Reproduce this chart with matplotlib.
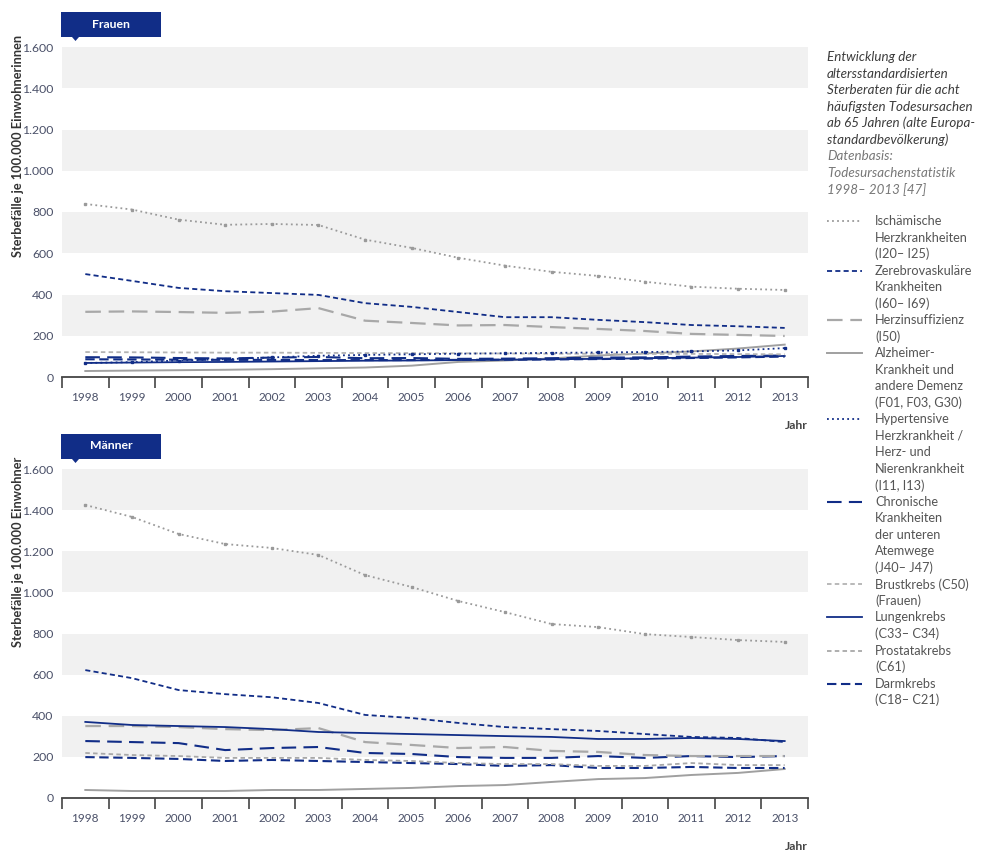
import numpy as np
import matplotlib
matplotlib.use("Agg")
import matplotlib.pyplot as plt
from matplotlib.lines import Line2D
from matplotlib.patches import Rectangle, Polygon

plt.rcParams['font.family'] = ['Lato', 'DejaVu Sans']

years = list(range(1998, 2014))

# Frauen
w_isch = [839, 812, 763, 738, 742, 737, 666, 626, 578, 540, 510, 490, 462, 438, 428, 422]
w_zereb = [499, 466, 432, 416, 407, 398, 358, 340, 315, 290, 290, 277, 266, 252, 246, 238]
w_herzins = [316, 318, 315, 311, 317, 334, 273, 262, 250, 252, 242, 233, 223, 209, 204, 199]
w_alz = [29, 31, 33, 35, 38, 42, 46, 55, 73, 80, 90, 104, 114, 124, 138, 157]
w_hyper = [68, 72, 80, 86, 95, 103, 107, 110, 113, 115, 117, 119, 121, 124, 129, 140]
w_chron = [96, 95, 92, 90, 94, 97, 91, 92, 88, 89, 91, 94, 95, 99, 102, 104]
w_brust = [121, 120, 119, 118, 118, 117, 116, 116, 115, 114, 113, 113, 112, 112, 111, 110]
w_lungen = [68, 70, 72, 73, 75, 77, 79, 80, 82, 84, 86, 88, 91, 94, 97, 102]
w_darm = [86, 85, 84, 83, 83, 82, 82, 82, 83, 84, 85, 87, 89, 92, 95, 99]

# Maenner
m_isch = [1425, 1367, 1284, 1235, 1216, 1182, 1084, 1026, 958, 904, 846, 831, 797, 783, 768, 759]
m_zereb = [622, 583, 525, 505, 490, 462, 404, 389, 365, 345, 335, 326, 311, 297, 292, 272]
m_herzins = [350, 350, 345, 335, 330, 340, 272, 258, 243, 248, 229, 224, 209, 204, 204, 204]
m_alz = [39, 34, 34, 34, 39, 39, 44, 49, 58, 63, 78, 92, 97, 112, 122, 141]
m_chron = [277, 272, 267, 233, 243, 248, 219, 214, 199, 195, 195, 204, 195, 204, 199, 204]
m_lungen = [370, 355, 350, 345, 335, 321, 316, 311, 306, 301, 297, 287, 287, 292, 287, 277]
m_prostata = [219, 209, 204, 195, 195, 195, 185, 180, 170, 165, 165, 156, 156, 170, 160, 160]
m_darm = [199, 195, 190, 180, 185, 180, 175, 170, 165, 156, 160, 146, 146, 151, 146, 146]

yticks = [0, 200, 400, 600, 800, 1000, 1200, 1400, 1600]
ytick_labels = ['0', '200', '400', '600', '800', '1.000', '1.200', '1.400', '1.600']

NAVY = '#112d87'
styles = {
    'isch': dict(color='#9a9a9a', ls=(0, (1, 1.8)), lw=1.3),
    'zereb': dict(color=NAVY, ls=(0, (2.8, 1.8)), lw=1.3),
    'herzins': dict(color='#a8a8a8', ls=(0, (7, 3.5)), lw=1.6),
    'alz': dict(color='#a0a0a0', ls='-', lw=1.4),
    'hyper': dict(color=NAVY, ls=(0, (1, 1.8)), lw=1.3),
    'chron': dict(color=NAVY, ls=(0, (7, 3.5)), lw=1.5),
    'brust': dict(color='#b3b3b3', ls=(0, (2.5, 1.8)), lw=1.3),
    'lungen': dict(color=NAVY, ls='-', lw=1.3),
    'prostata': dict(color='#a8a8a8', ls=(0, (2.5, 1.8)), lw=1.3),
    'darm': dict(color=NAVY, ls=(0, (4.5, 2.2)), lw=1.5),
}
markers = {'isch': '#9a9a9a', 'hyper': NAVY}

W, H = 983, 867
fig = plt.figure(figsize=(W / 100, H / 100), dpi=100)


def fx(x):
    return x / W


def fy(y):
    return 1 - y / H


def setup_axes(top, bottom, title, ylabel):
    ax = fig.add_axes([fx(62), fy(bottom), fx(808) - fx(62), fy(top) - fy(bottom)])
    for lo in (200, 600, 1000, 1400):
        ax.axhspan(lo, lo + 200, color='#f1f1f1', lw=0, zorder=0)
    ax.set_xlim(0, len(years))
    ax.set_ylim(0, 1600)
    for s in ('top', 'right', 'left'):
        ax.spines[s].set_visible(False)
    ax.spines['bottom'].set_color('#444444')
    ax.spines['bottom'].set_linewidth(1.3)
    ax.set_xticks(np.arange(len(years) + 1))
    ax.set_xticklabels([])
    ax.set_xticks(np.arange(len(years)) + 0.5, minor=True)
    ax.set_xticklabels([str(y) for y in years], minor=True)
    ax.tick_params(axis='x', which='major', length=8, width=1.2, color='#444444', direction='out')
    ax.tick_params(axis='x', which='minor', length=0, pad=11, labelsize=8.5, labelcolor='#4a5068')
    ax.set_yticks(yticks)
    ax.set_yticklabels(ytick_labels)
    ax.tick_params(axis='y', length=0, pad=6, labelsize=8.8, labelcolor='#4a5068')
    # header tag
    fig.add_artist(Rectangle((fx(61), fy(top - 10)), fx(161) - fx(61), fy(top - 35) - fy(top - 10),
                             transform=fig.transFigure, color=NAVY, lw=0))
    fig.add_artist(Polygon([(fx(72), fy(top - 10)), (fx(79), fy(top - 10)), (fx(75.5), fy(top - 6))],
                           closed=True, transform=fig.transFigure, color=NAVY, lw=0))
    fig.text(fx(111), fy(top - 23), title, color='white', fontsize=8.8, fontweight='bold',
             ha='center', va='center')
    fig.text(fx(18), fy(top - 12), ylabel, rotation=90, fontsize=9.2, fontweight='bold',
             color='#333333', ha='center', va='top')
    fig.text(fx(808), fy(bottom + 48), 'Jahr', fontsize=8.8, fontweight='bold',
             color='#444444', ha='right', va='center')
    return ax


def draw(ax, key, values):
    x = np.arange(len(values)) + 0.5
    st = styles[key]
    ax.plot(x, values, color=st['color'], linestyle=st['ls'], linewidth=st['lw'], zorder=3)
    if key in markers:
        ax.plot(x, values, ls='none', marker='s', ms=2.0, color=markers[key], zorder=4)


ax1 = setup_axes(47, 377, 'Frauen', 'Sterbefälle je 100.000 Einwohnerinnen')
for key, vals in [('alz', w_alz), ('darm', w_darm), ('lungen', w_lungen), ('chron', w_chron),
                  ('brust', w_brust), ('hyper', w_hyper), ('herzins', w_herzins),
                  ('zereb', w_zereb), ('isch', w_isch)]:
    draw(ax1, key, vals)

ax2 = setup_axes(469, 798, 'Männer', 'Sterbefälle je 100.000 Einwohner')
for key, vals in [('alz', m_alz), ('darm', m_darm), ('prostata', m_prostata), ('chron', m_chron),
                  ('herzins', m_herzins), ('lungen', m_lungen), ('zereb', m_zereb),
                  ('isch', m_isch)]:
    draw(ax2, key, vals)

# description text
note_dark = ['Entwicklung der', 'altersstandardisierten', 'Sterberaten für die acht',
             'häufigsten Todesursachen', 'ab 65 Jahren (alte Europa-',
             'standardbevölkerung)']
note_light = ['Datenbasis:', 'Todesursachenstatistik', '1998– 2013 [47]']
step = 16.52
for i, line in enumerate(note_dark + note_light):
    col = '#3c3c3c' if i < len(note_dark) else '#777777'
    fig.text(fx(827), fy(57 + i * step), line, fontsize=9.6, style='italic', color=col,
             ha='left', va='center')

# legend
legend_items = [
    ('isch', ['Ischämische', 'Herzkrankheiten', '(I20– I25)']),
    ('zereb', ['Zerebrovaskuläre', 'Krankheiten', '(I60– I69)']),
    ('herzins', ['Herzinsuffizienz', '(I50)']),
    ('alz', ['Alzheimer-', 'Krankheit und', 'andere Demenz', '(F01, F03, G30)']),
    ('hyper', ['Hypertensive', 'Herzkrankheit /', 'Herz- und', 'Nierenkrankheit', '(I11, I13)']),
    ('chron', ['Chronische', 'Krankheiten', 'der unteren', 'Atemwege', '(J40– J47)']),
    ('brust', ['Brustkrebs (C50)', '(Frauen)']),
    ('lungen', ['Lungenkrebs', '(C33– C34)']),
    ('prostata', ['Prostatakrebs', '(C61)']),
    ('darm', ['Darmkrebs', '(C18– C21)']),
]
row = 0
for key, lines in legend_items:
    yy = 221 + row * step
    st = styles[key]
    fig.add_artist(Line2D([fx(827), fx(862)], [fy(yy), fy(yy)], transform=fig.transFigure,
                          color=st['color'], linestyle=st['ls'], linewidth=st['lw']))
    for line in lines:
        fig.text(fx(875), fy(221 + row * step), line, fontsize=9.2, color='#555555',
                 ha='left', va='center')
        row += 1

fig.savefig('out.png', dpi=100)
